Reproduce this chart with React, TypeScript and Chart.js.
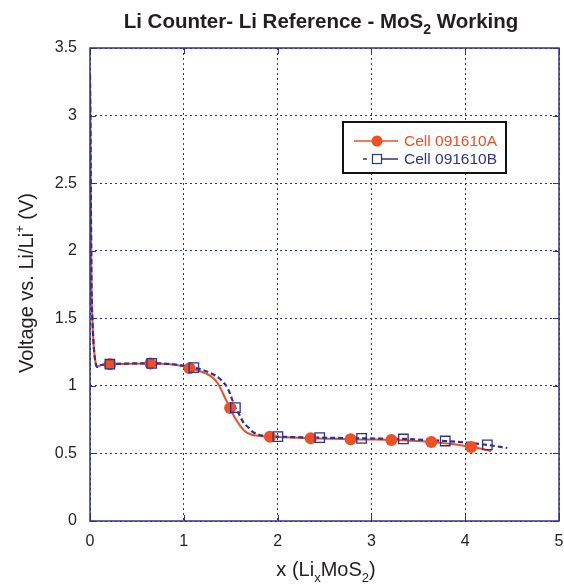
import React, { useEffect, useRef } from "react";
import { Chart, registerables } from "chart.js";

Chart.register(...registerables);

// Curve of Cell 091610A (solid red)
const cellAX = [0, 0.005, 0.01, 0.016, 0.025, 0.035, 0.045, 0.06, 0.075, 0.1, 0.212, 0.4, 0.644, 0.85, 0.99, 1.062, 1.14, 1.24, 1.31, 1.36, 1.4, 1.44, 1.47, 1.494, 1.54, 1.59, 1.645, 1.71, 1.77, 1.84, 1.918, 2.14, 2.353, 2.58, 2.778, 2.98, 3.213, 3.43, 3.638, 3.88, 4.063, 4.17, 4.278];
const cellAY = [3.3, 2.9, 2.3, 1.75, 1.5, 1.35, 1.25, 1.17, 1.14, 1.15, 1.16, 1.163, 1.165, 1.16, 1.145, 1.13, 1.115, 1.09, 1.06, 1.02, 0.97, 0.91, 0.87, 0.836, 0.77, 0.715, 0.668, 0.642, 0.632, 0.627, 0.624, 0.618, 0.612, 0.608, 0.605, 0.603, 0.6, 0.594, 0.585, 0.568, 0.548, 0.535, 0.518];
// Curve of Cell 091610B (dashed blue)
const cellBX = [0, 0.005, 0.01, 0.016, 0.025, 0.035, 0.045, 0.06, 0.075, 0.1, 0.212, 0.4, 0.658, 0.89, 1.107, 1.19, 1.27, 1.34, 1.41, 1.47, 1.51, 1.55, 1.59, 1.63, 1.69, 1.735, 1.79, 1.84, 1.91, 2.003, 2.19, 2.449, 2.68, 2.895, 3.08, 3.341, 3.58, 3.787, 4.02, 4.236, 4.448];
const cellBY = [3.3, 2.9, 2.3, 1.75, 1.5, 1.35, 1.25, 1.17, 1.14, 1.15, 1.16, 1.165, 1.167, 1.16, 1.135, 1.12, 1.1, 1.075, 1.035, 0.98, 0.91, 0.839, 0.79, 0.735, 0.69, 0.66, 0.642, 0.632, 0.626, 0.624, 0.62, 0.617, 0.614, 0.612, 0.61, 0.607, 0.6, 0.592, 0.58, 0.563, 0.54];
// Marker positions
const markAX = [0.212, 0.644, 1.062, 1.494, 1.918, 2.353, 2.778, 3.213, 3.638, 4.063];
const markAY = [1.16, 1.165, 1.13, 0.836, 0.624, 0.612, 0.605, 0.6, 0.585, 0.548];
const markBX = [0.212, 0.658, 1.107, 1.55, 2.003, 2.449, 2.895, 3.341, 3.787, 4.236];
const markBY = [1.16, 1.167, 1.135, 0.839, 0.624, 0.617, 0.612, 0.607, 0.592, 0.563];

const seriesNames = ["Cell 091610A", "Cell 091610B"];
const xTicks = [0, 1, 2, 3, 4, 5];
const yTicks = [0, 0.5, 1, 1.5, 2, 2.5, 3, 3.5];

const RED = "#f04e23";
const BLUE = "#2e3192";
const TEXT = "#231f20";
const FONT = "'Liberation Sans', Arial, Helvetica, sans-serif";

const zip = (xs: number[], ys: number[]) => xs.map((x, i) => ({ x, y: ys[i] }));

type Seg = { t: string; mode?: "sub" | "sup" };

function drawRich(ctx: CanvasRenderingContext2D, segs: Seg[], x: number, y: number, size: number, weight: string, color: string) {
  const small = Math.round(size * 0.66);
  const widths = segs.map((s) => {
    ctx.font = `${weight} ${s.mode ? small : size}px ${FONT}`;
    return ctx.measureText(s.t).width;
  });
  const total = widths.reduce((a, b) => a + b, 0);
  let cx = x - total / 2;
  ctx.fillStyle = color;
  ctx.textBaseline = "alphabetic";
  ctx.textAlign = "left";
  segs.forEach((s, i) => {
    ctx.font = `${weight} ${s.mode ? small : size}px ${FONT}`;
    const dy = s.mode === "sub" ? size * 0.3 : s.mode === "sup" ? -size * 0.45 : 0;
    ctx.fillText(s.t, cx, y + dy);
    cx += widths[i];
  });
}

const decorPlugin = {
  id: "decor",
  afterDraw(chart: any) {
    const ctx: CanvasRenderingContext2D = chart.ctx;
    const { left, right, top, bottom } = chart.chartArea;
    const xs = chart.scales.x;
    const ys = chart.scales.y;
    ctx.save();
    // frame
    ctx.strokeStyle = BLUE;
    ctx.lineWidth = 1.5;
    ctx.setLineDash([]);
    ctx.strokeRect(left, top, right - left, bottom - top);
    // inward ticks
    ctx.lineWidth = 1;
    ctx.beginPath();
    xTicks.forEach((v) => {
      const px = Math.round(xs.getPixelForValue(v)) + 0.5;
      ctx.moveTo(px, bottom);
      ctx.lineTo(px, bottom - 6);
      ctx.moveTo(px, top);
      ctx.lineTo(px, top + 6);
    });
    yTicks.forEach((v) => {
      const py = Math.round(ys.getPixelForValue(v)) + 0.5;
      ctx.moveTo(left, py);
      ctx.lineTo(left + 6, py);
      ctx.moveTo(right, py);
      ctx.lineTo(right - 6, py);
    });
    ctx.stroke();

    // title
    drawRich(ctx, [{ t: "Li Counter- Li Reference - MoS" }, { t: "2", mode: "sub" }, { t: " Working" }], 321, 28, 20.5, "bold", TEXT);
    // x title
    drawRich(ctx, [{ t: "x (Li" }, { t: "x", mode: "sub" }, { t: "MoS" }, { t: "2", mode: "sub" }, { t: ")" }], 326, 576, 20, "normal", TEXT);
    // y title
    ctx.save();
    ctx.translate(33, 283);
    ctx.rotate(-Math.PI / 2);
    drawRich(ctx, [{ t: "Voltage vs. Li/Li" }, { t: "+", mode: "sup" }, { t: " (V)" }], 0, 0, 20, "normal", TEXT);
    ctx.restore();

    // legend
    const bx = 343, by = 122, bw = 163, bh = 51;
    ctx.fillStyle = "#ffffff";
    ctx.fillRect(bx, by, bw, bh);
    ctx.strokeStyle = "#111111";
    ctx.lineWidth = 2;
    ctx.strokeRect(bx, by, bw, bh);
    const r1 = 141, r2 = 159;
    // row A
    ctx.strokeStyle = RED;
    ctx.lineWidth = 1.5;
    ctx.beginPath();
    ctx.moveTo(354, r1);
    ctx.lineTo(398, r1);
    ctx.stroke();
    ctx.fillStyle = RED;
    ctx.beginPath();
    ctx.arc(377, r1, 5.5, 0, Math.PI * 2);
    ctx.fill();
    ctx.font = `15.5px ${FONT}`;
    ctx.textBaseline = "middle";
    ctx.textAlign = "left";
    ctx.fillText(seriesNames[0], 404, r1 + 1);
    // row B
    ctx.strokeStyle = BLUE;
    ctx.lineWidth = 1.5;
    ctx.beginPath();
    ctx.moveTo(363, r2);
    ctx.lineTo(367, r2);
    ctx.moveTo(382, r2);
    ctx.lineTo(398, r2);
    ctx.stroke();
    ctx.lineWidth = 1.2;
    ctx.strokeRect(372.5, r2 - 4.5, 9, 9);
    ctx.fillStyle = BLUE;
    ctx.fillText(seriesNames[1], 404, r2 + 1);
    ctx.restore();
  },
};

export default function App() {
  const ref = useRef<HTMLCanvasElement>(null);
  useEffect(() => {
    if (!ref.current) return;
    const chart = new Chart(ref.current, {
      type: "scatter",
      data: {
        datasets: [
          {
            label: seriesNames[1] + " markers",
            data: zip(markBX, markBY),
            showLine: false,
            pointStyle: "rect",
            pointRadius: 6.7,
            pointBorderWidth: 1.3,
            pointBackgroundColor: "rgba(0,0,0,0)",
            pointBorderColor: BLUE,
          },
          {
            label: seriesNames[0] + " markers",
            data: zip(markAX, markAY),
            showLine: false,
            pointStyle: "circle",
            pointRadius: 6,
            pointBorderWidth: 0,
            pointBackgroundColor: RED,
            pointBorderColor: RED,
          },
          {
            label: seriesNames[1],
            data: zip(cellBX, cellBY),
            showLine: true,
            borderColor: BLUE,
            borderWidth: 2.2,
            borderDash: [5, 3],
            pointRadius: 0,
            cubicInterpolationMode: "monotone",
          },
          {
            label: seriesNames[0],
            data: zip(cellAX, cellAY),
            showLine: true,
            borderColor: RED,
            borderWidth: 2,
            pointRadius: 0,
            cubicInterpolationMode: "monotone",
          },
        ],
      },
      options: {
        animation: false,
        responsive: false,
        maintainAspectRatio: false,
        layout: { padding: { top: 48, right: 0, left: 0, bottom: 0 } },
        plugins: { legend: { display: false }, title: { display: false }, tooltip: { enabled: false } },
        scales: {
          x: {
            type: "linear",
            min: 0,
            max: 5,
            afterBuildTicks: (s: any) => {
              s.ticks = xTicks.map((v) => ({ value: v }));
            },
            afterFit: (s: any) => {
              s.height = 66;
              s.paddingLeft = 0;
              s.paddingRight = 0;
            },
            grid: { color: BLUE, lineWidth: 1, drawTicks: false },
            border: { display: false, dash: [2, 3] },
            ticks: { color: TEXT, font: { family: FONT, size: 16 }, padding: 11, callback: (v: any) => String(v), maxRotation: 0 },
          },
          y: {
            type: "linear",
            min: 0,
            max: 3.5,
            afterBuildTicks: (s: any) => {
              s.ticks = yTicks.map((v) => ({ value: v }));
            },
            afterFit: (s: any) => {
              s.width = 90;
              s.paddingTop = 0;
              s.paddingBottom = 0;
            },
            grid: { color: BLUE, lineWidth: 1, drawTicks: false },
            border: { display: false, dash: [2, 3] },
            ticks: { color: TEXT, font: { family: FONT, size: 16 }, padding: 13, callback: (v: any) => String(v) },
          },
        },
      },
      plugins: [decorPlugin],
    } as any);
    return () => chart.destroy();
  }, []);
  return (
    <div style={{ position: "fixed", left: 0, top: 0, width: 564, height: 587, overflow: "hidden", background: "#fff" }}>
      <canvas ref={ref} width={567} height={587} style={{ width: 567, height: 587, display: "block" }} />
    </div>
  );
}
